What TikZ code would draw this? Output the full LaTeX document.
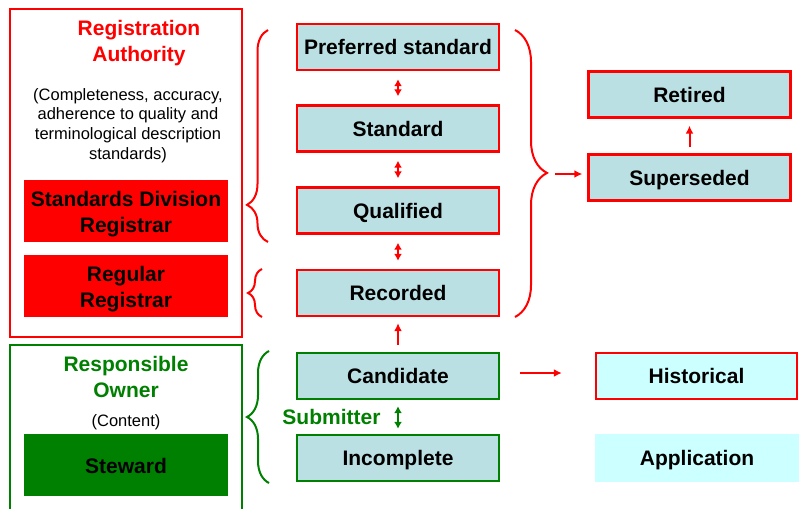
\documentclass[tikz,border=0pt]{standalone}
\usepackage{fontspec}
\setmainfont{Liberation Sans}
\usetikzlibrary{arrows.meta,decorations.pathreplacing}
\definecolor{rared}{RGB}{255,0,0}
\definecolor{rogreen}{RGB}{0,128,0}
\definecolor{statefill}{RGB}{187,224,227}
\definecolor{paleaqua}{RGB}{204,255,255}
\tikzset{
  big/.style={font=\fontsize{21}{26}\selectfont\bfseries},
  note/.style={font=\fontsize{16.5}{19.6}\selectfont},
  state/.style={draw=rared, line width=2.4pt, fill=statefill, minimum width=202pt,
    minimum height=46pt, inner sep=0pt, text height=15.5pt, text depth=0pt, big},
  gstate/.style={state, draw=rogreen},
  rolebox/.style={minimum width=204pt, minimum height=62pt, inner sep=0pt},
  roletext/.style={big, align=center},
  frame/.style={line width=2pt},
  rbrace/.style={decorate, line width=2pt, draw=rared},
  lnk/.style={draw=rared, line width=2pt, -{Latex[length=8pt,width=8pt]}},
  dlnk/.style={draw=rared, line width=2pt, {Latex[length=7pt,width=8pt]}-{Latex[length=7pt,width=8pt]}},
}
\begin{document}
\begin{tikzpicture}[x=1pt, y=-1pt]
\clip (0,0) rectangle (799,508);
\fill[white] (0,0) rectangle (799,508);

% Registration authority panel
\draw[frame, rared] (10,9) rectangle (242,337);
\node[big, rared, align=center] (ra) at (139,43) {Registration\\Authority};
\node[note, align=center] (ranote) at (128,125.5)
  {(Completeness, accuracy,\\adherence to quality and\\terminological description\\standards)};
\node[rolebox, fill=rared] (sdr) at (126,211) {};
\node[roletext] (sdrtext) at (126,214) {Standards Division\\Registrar};
\node[rolebox, fill=rared] (reg) at (126,286) {};
\node[roletext] (regtext) at (126,289) {Regular\\Registrar};

% Responsible owner panel
\draw[frame, rogreen] (10,345) rectangle (242,520);
\node[big, rogreen, align=center] (ro) at (126,377) {Responsible\\Owner};
\node[note] (ronote) at (126,422.5) {(Content)};
\node[rolebox, fill=rogreen] (stew) at (126,465) {};
\node[roletext] (stewtext) at (126,465.5) {Steward};

% Registration states
\node[state] (pref) at (398,47) {Preferred standard};
\node[state] (std) at (398,128.5) {Standard};
\node[state] (qual) at (398,210.5) {Qualified};
\node[state] (rec) at (398,293) {Recorded};
\node[gstate] (cand) at (398,376) {Candidate};
\node[gstate] (inc) at (398,458) {Incomplete};

\node[state] (ret) at (689.5,94.5) {Retired};
\node[state] (sup) at (689.5,177.5) {Superseded};
\node[state, fill=paleaqua, minimum width=201pt] (hist) at (696.5,376) {Historical};
\node[state, draw=none, fill=paleaqua, minimum width=204pt, minimum height=48pt] (app) at (697,458) {Application};

% Transitions
\draw[dlnk, shorten <=8pt, shorten >=8pt] (pref) -- (std);
\draw[dlnk, shorten <=8pt, shorten >=8pt] (std) -- (qual);
\draw[dlnk, shorten <=8pt, shorten >=8pt] (qual) -- (rec);
\draw[lnk, shorten <=7pt, shorten >=6pt] (cand) -- (rec);
\draw[dlnk, draw=rogreen, shorten <=6pt, shorten >=5pt] (cand) -- (inc);
\node[big, rogreen, anchor=east] (subm) at (384,417) {Submitter};
\draw[lnk, shorten <=6pt, shorten >=7pt] (sup) -- (ret);
\draw[lnk, shorten <=20pt, shorten >=33pt] ([yshift=3pt]cand.east) -- ([yshift=3pt]hist.west);

% Braces grouping the states
\draw[rbrace, decoration={brace, amplitude=21pt, aspect=0.175}] (268,242) -- (268,30);
\draw[rbrace, decoration={brace, amplitude=14pt}] (262,317) -- (262,269);
\draw[decorate, line width=2pt, draw=rogreen, decoration={brace, amplitude=22pt}] (269,483) -- (269,351);
\draw[rbrace, decoration={brace, amplitude=32pt, aspect=0.498}] (515,30) -- (515,317);
\coordinate (fork) at (555,174);
\draw[lnk, shorten >=5pt] (fork) -- (fork -| sup.west);
\end{tikzpicture}
\end{document}
